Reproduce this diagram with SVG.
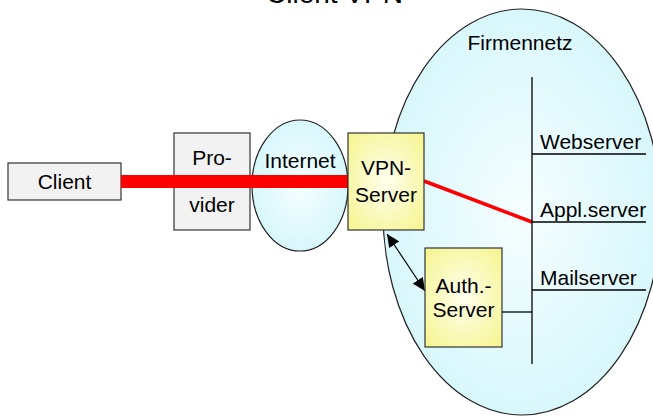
<svg xmlns="http://www.w3.org/2000/svg" width="653" height="416" viewBox="0 0 653 416">
  <defs>
    <radialGradient id="cloudFill" cx="0.5" cy="0.5" r="0.6">
      <stop offset="0" stop-color="#f6feff"/>
      <stop offset="1" stop-color="#d2f6fb"/>
    </radialGradient>
    <radialGradient id="serverFill" cx="0.5" cy="0.5" r="0.65">
      <stop offset="0" stop-color="#ffffee"/>
      <stop offset="1" stop-color="#f6f594"/>
    </radialGradient>
    <marker id="head" markerUnits="userSpaceOnUse" markerWidth="14" markerHeight="12" refX="13" refY="6" orient="auto-start-reverse">
      <path d="M0,0 L13,6 L0,12 Z" fill="#000"/>
    </marker>
    <style>
      .label { font-family: "Liberation Sans", Arial, sans-serif; font-size: 21px; fill: #000; }
      .mid { text-anchor: middle; }
      .grey { fill: #f2f2f2; stroke: #333; stroke-width: 1.2; }
      .yellow { fill: url(#serverFill); stroke: #333; stroke-width: 1.2; }
      .net { fill: url(#cloudFill); stroke: #222; stroke-width: 1.2; }
      .wire { stroke: #000; stroke-width: 1.3; fill: none; }
    </style>
  </defs>

  <!-- title, mostly above the visible area -->
  <text x="266" y="2.5" font-family="Liberation Sans, Arial, sans-serif" font-size="28">Client VPN</text>

  <g id="firmennetz">
    <ellipse class="net" cx="522" cy="212" rx="139" ry="203"/>
    <text class="label mid" x="520" y="50">Firmennetz</text>
  </g>

  <g id="internet">
    <ellipse class="net" cx="300" cy="185.5" rx="48" ry="65.5"/>
    <text class="label mid" x="300" y="168">Internet</text>
  </g>

  <g id="client">
    <rect class="grey" x="8" y="163" width="113" height="37"/>
    <text class="label mid" x="64.5" y="188.5">Client</text>
  </g>

  <g id="provider">
    <rect class="grey" x="174" y="133" width="76" height="97"/>
    <text class="label mid" x="212" y="165">Pro-</text>
    <text class="label mid" x="212" y="212">vider</text>
  </g>

  <g id="connectors">
    <!-- tunnel from client to VPN gateway -->
    <line x1="121" y1="181.5" x2="348" y2="181.5" stroke="#ff0000" stroke-width="13"/>
    <!-- VPN gateway to application server -->
    <line x1="424" y1="181" x2="532" y2="222" stroke="#ff0000" stroke-width="3.5"/>
    <!-- LAN bus with server drops -->
    <line class="wire" x1="532" y1="77" x2="532" y2="364"/>
    <line class="wire" x1="532" y1="154" x2="646" y2="154"/>
    <line class="wire" x1="532" y1="222" x2="646" y2="222"/>
    <line class="wire" x1="532" y1="290" x2="646" y2="290"/>
    <line class="wire" x1="502" y1="312" x2="532" y2="312"/>
    <!-- VPN server <-> auth server -->
    <line x1="387" y1="234" x2="425" y2="291" stroke="#000" stroke-width="1.2" marker-start="url(#head)" marker-end="url(#head)"/>
  </g>

  <g id="vpn-server">
    <rect class="yellow" x="348" y="133" width="76" height="97"/>
    <text class="label mid" x="386" y="175">VPN-</text>
    <text class="label mid" x="386" y="201.5">Server</text>
  </g>

  <g id="auth-server">
    <rect class="yellow" x="425" y="248" width="77" height="99"/>
    <text class="label mid" x="463.5" y="292.5">Auth.-</text>
    <text class="label mid" x="463.5" y="316.5">Server</text>
  </g>

  <g id="servers">
    <text class="label" x="540" y="149">Webserver</text>
    <text class="label" x="540" y="217">Appl.server</text>
    <text class="label" x="540" y="285">Mailserver</text>
  </g>
</svg>
